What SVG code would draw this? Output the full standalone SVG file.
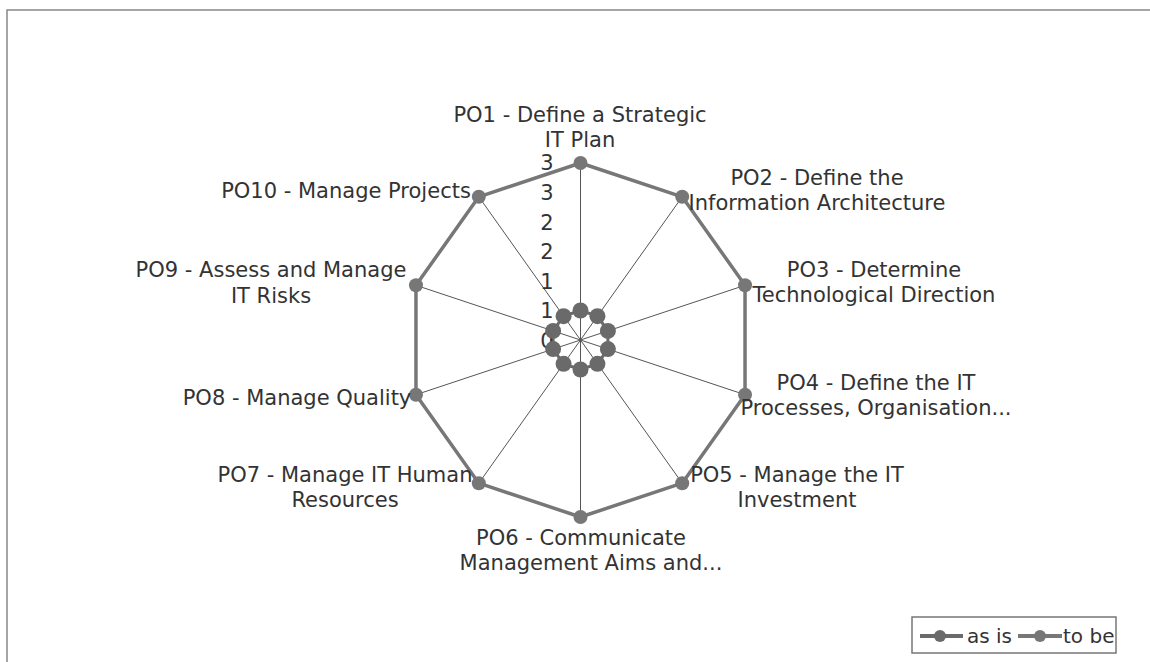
<svg xmlns="http://www.w3.org/2000/svg" width="1150" height="662" viewBox="0 0 1150 662">
<style>
.lbl{font-family:"DejaVu Sans","Verdana",sans-serif;font-size:21px;fill:#333;text-anchor:middle}
.tick{font-family:"DejaVu Sans","Verdana",sans-serif;font-size:21px;fill:#333;text-anchor:middle}
.axis{stroke:#555;stroke-width:1;fill:none}
.ser{stroke:#777;stroke-width:3.5;fill:none;stroke-linejoin:round}
.asis{stroke:#6a6a6a;stroke-width:3;fill:none}
.dot{fill:#777}
.dot2{fill:#6a6a6a}
.frame{stroke:#888;stroke-width:1.5;fill:none}
</style>
<rect width="1150" height="662" fill="#fff"/>
<path class="frame" d="M7,662 V10 H1150"/>
<g id="connectors">
  <path class="axis" d="M580.5,340 L580.5,163 M580.5,340 L682.19,196.8 M580.5,340 L745.03,285.3 M580.5,340 L745.03,394.7 M580.5,340 L682.19,483.2 M580.5,340 L580.5,517 M580.5,340 L478.81,483.2 M580.5,340 L415.97,394.7 M580.5,340 L415.97,285.3 M580.5,340 L478.81,196.8"/>
  <polygon class="ser" points="580.5,163 682.19,196.8 745.03,285.3 745.03,394.7 682.19,483.2 580.5,517 478.81,483.2 415.97,394.7 415.97,285.3 478.81,196.8"/>
  <polygon class="asis" points="580.5,310.5 597.43,316.13 607.89,330.88 607.89,349.12 597.43,363.87 580.5,369.5 563.57,363.87 553.11,349.12 553.11,330.88 563.57,316.13"/>
</g>
<g id="scale">
  <text class="tick" x="547" y="170">3</text>
  <text class="tick" x="547" y="200">3</text>
  <text class="tick" x="547" y="230">2</text>
  <text class="tick" x="547" y="259">2</text>
  <text class="tick" x="547" y="289">1</text>
  <text class="tick" x="547" y="318">1</text>
  <text class="tick" x="547" y="348">0</text>
</g>
<g id="po1">
  <circle class="dot2" cx="580.5" cy="310.5" r="8"/>
  <circle class="dot" cx="580.5" cy="163" r="7"/>
  <text class="lbl" x="580" y="122">PO1 - Define a Strategic</text>
  <text class="lbl" x="580" y="147">IT Plan</text>
</g>
<g id="po2">
  <circle class="dot2" cx="597.43" cy="316.13" r="8"/>
  <circle class="dot" cx="682.19" cy="196.8" r="7"/>
  <text class="lbl" x="817" y="185">PO2 - Define the</text>
  <text class="lbl" x="817" y="210">Information Architecture</text>
</g>
<g id="po3">
  <circle class="dot2" cx="607.89" cy="330.88" r="8"/>
  <circle class="dot" cx="745.03" cy="285.3" r="7"/>
  <text class="lbl" x="874" y="277">PO3 - Determine</text>
  <text class="lbl" x="874" y="302">Technological Direction</text>
</g>
<g id="po4">
  <circle class="dot2" cx="607.89" cy="349.12" r="8"/>
  <circle class="dot" cx="745.03" cy="394.7" r="7"/>
  <text class="lbl" x="876" y="390">PO4 - Define the IT</text>
  <text class="lbl" x="876" y="415">Processes, Organisation...</text>
</g>
<g id="po5">
  <circle class="dot2" cx="597.43" cy="363.87" r="8"/>
  <circle class="dot" cx="682.19" cy="483.2" r="7"/>
  <text class="lbl" x="797" y="482">PO5 - Manage the IT</text>
  <text class="lbl" x="797" y="507">Investment</text>
</g>
<g id="po6">
  <circle class="dot2" cx="580.5" cy="369.5" r="8"/>
  <circle class="dot" cx="580.5" cy="517" r="7"/>
  <text class="lbl" x="581" y="545">PO6 - Communicate</text>
  <text class="lbl" x="591" y="570">Management Aims and...</text>
</g>
<g id="po7">
  <circle class="dot2" cx="563.57" cy="363.87" r="8"/>
  <circle class="dot" cx="478.81" cy="483.2" r="7"/>
  <text class="lbl" x="345" y="482">PO7 - Manage IT Human</text>
  <text class="lbl" x="345" y="507">Resources</text>
</g>
<g id="po8">
  <circle class="dot2" cx="553.11" cy="349.12" r="8"/>
  <circle class="dot" cx="415.97" cy="394.7" r="7"/>
  <text class="lbl" x="297" y="405">PO8 - Manage Quality</text>
</g>
<g id="po9">
  <circle class="dot2" cx="553.11" cy="330.88" r="8"/>
  <circle class="dot" cx="415.97" cy="285.3" r="7"/>
  <text class="lbl" x="271" y="277">PO9 - Assess and Manage</text>
  <text class="lbl" x="271" y="303">IT Risks</text>
</g>
<g id="po10">
  <circle class="dot2" cx="563.57" cy="316.13" r="8"/>
  <circle class="dot" cx="478.81" cy="196.8" r="7"/>
  <text class="lbl" x="346" y="198">PO10 - Manage Projects</text>
</g>
<g id="legend">
  <rect x="912" y="617" width="204" height="36" fill="#fff" stroke="#777" stroke-width="1.5"/>
  <line x1="920" y1="636" x2="963" y2="636" stroke="#6a6a6a" stroke-width="4"/>
  <circle class="dot2" cx="940" cy="636" r="6"/>
  <text x="967" y="643" style="font-family:'DejaVu Sans',sans-serif;font-size:20px;fill:#333">as is</text>
  <line x1="1018" y1="636" x2="1062" y2="636" stroke="#777" stroke-width="4"/>
  <circle class="dot" cx="1040" cy="636" r="6"/>
  <text x="1063" y="643" style="font-family:'DejaVu Sans',sans-serif;font-size:20px;fill:#333">to be</text>
</g>
</svg>
